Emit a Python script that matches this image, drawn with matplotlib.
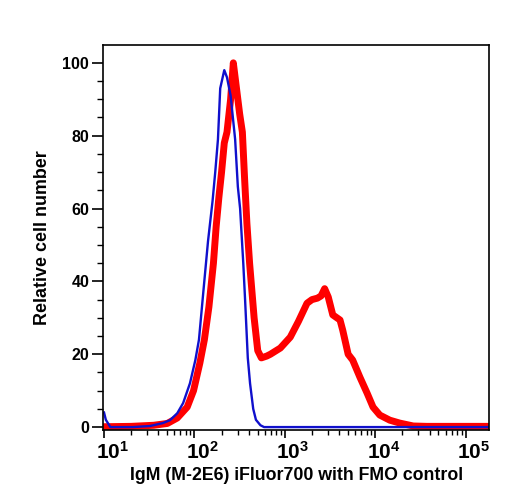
import numpy as np
import matplotlib
matplotlib.use('Agg')
import matplotlib.pyplot as plt
from matplotlib.transforms import ScaledTranslation

plt.rcParams['font.family'] = ['Liberation Sans', 'DejaVu Sans']
plt.rcParams['font.weight'] = 'bold'
plt.rcParams['mathtext.fontset'] = 'custom'
plt.rcParams['mathtext.rm'] = 'Liberation Sans:bold'
plt.rcParams['mathtext.default'] = 'rm'

# log10 of fluorescence intensity, and relative cell number
stained_log = [1.0, 1.3, 1.55, 1.70, 1.81, 1.92, 1.99, 2.06, 2.11, 2.16, 2.21, 2.24,
               2.27, 2.30, 2.33, 2.36, 2.40, 2.43, 2.47, 2.50, 2.53, 2.555, 2.58, 2.61,
               2.66, 2.70, 2.74, 2.80, 2.84, 2.95, 3.06, 3.15, 3.245, 3.30, 3.36, 3.40,
               3.44, 3.48, 3.53, 3.61, 3.64, 3.70, 3.75, 3.83, 3.91, 3.975, 4.05, 4.16,
               4.27, 4.42, 4.57, 5.26]
stained_count = [0.1, 0.2, 0.5, 1.0, 2.5, 5.5, 10, 17.6, 24, 33, 45, 55,
                 63, 70, 78, 81, 90, 100, 92, 86, 81, 68, 56, 45,
                 30, 21, 19, 19.5, 20, 21.7, 24.7, 29, 34, 35, 35.4, 36,
                 38, 35.7, 30.8, 29.4, 26.6, 20, 18.4, 13.7, 9.3, 5.5, 3.3, 1.9,
                 1.1, 0.3, 0.2, 0.2]

fmo_log = [1.0, 1.02, 1.07, 1.32, 1.51, 1.65, 1.73, 1.81, 1.875, 1.95, 2.01, 2.05,
           2.10, 2.15, 2.20, 2.23, 2.26, 2.285, 2.33, 2.36, 2.40, 2.45, 2.48, 2.505,
           2.54, 2.56, 2.59, 2.615, 2.65, 2.68, 2.73, 2.77, 5.26]
fmo_count = [4.0, 2.0, 0.0, 0.0, 0.3, 1.1, 1.9, 3.8, 6.6, 12, 18.4, 24,
             37.6, 51, 62, 70, 79, 93, 98, 96, 91, 79, 66, 60,
             45, 35, 19, 12, 5, 2, 0.5, 0, 0]

fig = plt.figure(figsize=(5.08, 5.0), dpi=100)
ax = fig.add_axes([0.203, 0.14, 0.76, 0.77])

ax.plot(10 ** np.array(stained_log), stained_count, color='#ff0000', lw=5, solid_joinstyle='round')
ax.plot(10 ** np.array(fmo_log), fmo_count, color='#1010cc', lw=1.7)

ax.set_xscale('log')
ax.set_xlim(10 ** 0.99, 10 ** 5.26)
ax.set_ylim(-0.8, 104.9)

ax.set_xticks([10, 100, 1000, 10000, 100000])
ax.set_xticklabels([r'$10^{1}$', r'$10^{2}$', r'$10^{3}$', r'$10^{4}$', r'$10^{5}$'], fontsize=15)
ax.set_yticks([0, 20, 40, 60, 80, 100])
ax.set_yticks(np.arange(0, 105, 5), minor=True)
ax.tick_params(axis='y', labelsize=11.5, length=8, width=1.2, pad=2)
ax.tick_params(axis='y', which='minor', length=4, width=1)
ax.tick_params(axis='x', length=6, width=1.2, pad=2)
ax.tick_params(axis='x', which='minor', length=3.5, width=1)

offset = ScaledTranslation(0.08, 0, fig.dpi_scale_trans)
for lab in ax.get_xticklabels():
    lab.set_transform(lab.get_transform() + offset)

for s in ax.spines.values():
    s.set_linewidth(1.2)

ax.set_xlabel('IgM (M-2E6) iFluor700 with FMO control', fontsize=12.8, fontweight='bold', labelpad=3)
ax.set_ylabel('Relative cell number', fontsize=12.9, fontweight='bold', labelpad=8)

fig.savefig('out.png', dpi=100)
